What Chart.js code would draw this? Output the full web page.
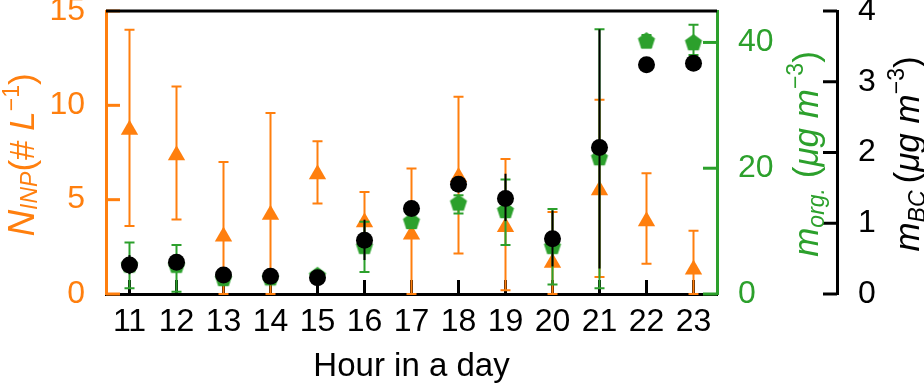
<!DOCTYPE html>
<html>
<head>
<meta charset="utf-8">
<script src="https://cdn.jsdelivr.net/npm/chart.js@4/dist/chart.umd.min.js"></script>
<style>
  body { margin: 0; background: #fff; }
  #wrap { width: 924px; height: 387px; }
</style>
</head>
<body>
<div id="wrap"><canvas id="chart" width="924" height="387"></canvas></div>
<script>
// === Données ===
const hours = ['11', '12', '13', '14', '15', '16', '17', '18', '19', '20', '21', '22', '23'];

// N_INP (# L-1), axe gauche
const inpValues = [8.7, 7.35, 3.05, 4.2, 6.35, 3.8, 3.15, 6.2, 3.55, 1.65, 5.5, 3.85, 1.3];
const inpHigh   = [14.0, 11.0, 7.0, 9.6, 8.1, 5.4, 6.65, 10.45, 7.15, 4.35, 10.3, 6.4, 3.35];
const inpLow    = [3.6, 3.95, 0, 0, 4.8, 2.4, 0, 2.15, 0.2, 0, 0.9, 1.6, 0];

// m_org (µg m-3), axe vert
const orgValues = [4.55, 4.5, 2.4, 2.5, 2.9, 7.5, 11.5, 14.4, 13.2, 7.5, 21.6, 40.2, 39.9];
const orgHigh   = [8.2, 7.8, 3.0, 3.1, 3.5, 11.5, 12.6, 15.7, 18.2, 13.5, 42.1, 41.2, 42.8];
const orgLow    = [0.9, 0.37, 1.8, 1.9, 2.3, 3.5, 10.5, 12.8, 7.8, 1.5, 0.9, 39.2, 38.0];

// m_BC (µg m-3), axe noir
const bcValues = [0.41, 0.45, 0.27, 0.25, 0.23, 0.76, 1.21, 1.55, 1.35, 0.78, 2.07, 3.24, 3.26];
const bcHigh   = [0.55, 0.55, 0.27, 0.25, 0.23, 1.05, 1.21, 1.55, 1.7, 1.18, 3.74, 3.24, 3.26];
const bcLow    = [0.28, 0.35, 0.27, 0.25, 0.23, 0.48, 1.21, 1.55, 1.03, 0.39, 0.36, 3.24, 3.26];

const inpTicks = [0, 5, 10, 15];
const orgTicks = [0, 20, 40];
const bcTicks = [0, 1, 2, 3, 4];

const ORANGE = '#ff7f0e';
const GREEN = '#2ca02c';
const BLACK = '#000000';
const FONT = "'Liberation Sans', Arial, sans-serif";

// Marqueur pentagone (pas de style natif dans Chart.js)
function makePentagon(r, color) {
  const c = document.createElement('canvas');
  const s = Math.ceil(r * 2 + 2);
  c.width = s; c.height = s;
  const g = c.getContext('2d');
  g.fillStyle = color;
  g.beginPath();
  for (let i = 0; i < 5; i++) {
    const a = -Math.PI / 2 + i * 2 * Math.PI / 5;
    const px = s / 2 + r * Math.cos(a), py = s / 2 + r * Math.sin(a);
    if (i === 0) g.moveTo(px, py); else g.lineTo(px, py);
  }
  g.closePath();
  g.fill();
  return c;
}

// Barres d'erreur, dessinées avant chaque série
const errorBars = {
  id: 'errorBars',
  beforeDatasetDraw(chart, args) {
    const ds = chart.data.datasets[args.index];
    if (!ds.errLow) return;
    const ys = chart.scales[ds.yAxisID];
    const ctx = chart.ctx;
    const cap = ds.errCap;
    ctx.save();
    ctx.strokeStyle = ds.errColor;
    ctx.lineWidth = 2;
    args.meta.data.forEach((pt, i) => {
      const lo = ds.errLow[i], hi = ds.errHigh[i];
      if (lo === hi) return;
      const y1 = ys.getPixelForValue(lo), y2 = ys.getPixelForValue(hi);
      ctx.beginPath();
      ctx.moveTo(pt.x, y1); ctx.lineTo(pt.x, y2);
      if (cap) {
        ctx.moveTo(pt.x - cap, y1); ctx.lineTo(pt.x + cap, y1);
        ctx.moveTo(pt.x - cap, y2); ctx.lineTo(pt.x + cap, y2);
      }
      ctx.stroke();
    });
    ctx.restore();
  }
};

// Graduations vers l'intérieur + cadre du haut
const frame = {
  id: 'frame',
  beforeDatasetsDraw(chart) {
    const ctx = chart.ctx;
    const a = chart.chartArea;
    const L = 14;
    ctx.save();
    ctx.lineWidth = 3;
    const sx = chart.scales.x;
    ctx.strokeStyle = BLACK;
    hours.forEach((h, i) => {
      const x = sx.getPixelForValue(i);
      ctx.beginPath(); ctx.moveTo(x, a.bottom); ctx.lineTo(x, a.bottom - L); ctx.stroke();
    });
    const sInp = chart.scales.yInp;
    ctx.strokeStyle = ORANGE;
    inpTicks.forEach(v => {
      const y = sInp.getPixelForValue(v);
      ctx.beginPath(); ctx.moveTo(a.left, y); ctx.lineTo(a.left + L, y); ctx.stroke();
    });
    const sOrg = chart.scales.yOrg;
    ctx.strokeStyle = GREEN;
    orgTicks.forEach(v => {
      const y = sOrg.getPixelForValue(v);
      ctx.beginPath(); ctx.moveTo(a.right, y); ctx.lineTo(a.right - L, y); ctx.stroke();
    });
    const sBc = chart.scales.yBc;
    ctx.strokeStyle = BLACK;
    bcTicks.forEach(v => {
      const y = sBc.getPixelForValue(v);
      ctx.beginPath(); ctx.moveTo(sBc.left, y); ctx.lineTo(sBc.left - L, y); ctx.stroke();
    });
    // cadre du haut
    ctx.beginPath(); ctx.moveTo(a.left, a.top); ctx.lineTo(a.right, a.top); ctx.stroke();
    ctx.restore();
  }
};

// Titres d'axes avec indices / exposants
function drawRich(ctx, parts, cx, cy, color, rotate) {
  ctx.save();
  ctx.translate(cx, cy);
  if (rotate) ctx.rotate(-Math.PI / 2);
  ctx.fillStyle = color;
  ctx.textBaseline = 'alphabetic';
  let total = 0;
  parts.forEach(p => {
    ctx.font = (p.it ? 'italic ' : '') + p.size + 'px ' + FONT;
    p.w = ctx.measureText(p.t).width;
    total += p.w;
  });
  let x = -total / 2;
  parts.forEach(p => {
    ctx.font = (p.it ? 'italic ' : '') + p.size + 'px ' + FONT;
    ctx.fillText(p.t, x, p.dy || 0);
    x += p.w;
  });
  ctx.restore();
}

const axisTitles = {
  id: 'axisTitles',
  afterDraw(chart) {
    const ctx = chart.ctx;
    const M = 35, S = 23;
    const a = chart.chartArea;
    drawRich(ctx, [{ t: 'Hour in a day', size: 33 }], (a.left + a.right) / 2, 376, BLACK, false);
    drawRich(ctx, [
      { t: 'N', size: M + 2, it: true },
      { t: 'INP', size: S, it: true, dy: 3 },
      { t: '(', size: M },
      { t: '# ', size: M },
      { t: 'L', size: M, it: true },
      { t: '\u22121', size: S, dy: -15 },
      { t: ')', size: M }
    ], 34, 155, ORANGE, true);
    drawRich(ctx, [
      { t: 'm', size: M, it: true },
      { t: 'org.', size: S, it: true, dy: 6 },
      { t: ' (', size: M },
      { t: '\u03bcg m', size: M, it: true },
      { t: '\u22123', size: S, dy: -15 },
      { t: ')', size: M }
    ], 818, 154, GREEN, true);
    drawRich(ctx, [
      { t: 'm', size: M, it: true },
      { t: 'BC', size: S, it: true, dy: 6 },
      { t: '\u2009(', size: M },
      { t: '\u03bcg m', size: M, it: true },
      { t: '\u22123', size: S, dy: -15 },
      { t: ')', size: M }
    ], 919, 154, BLACK, true);
  }
};

const tickFont = { family: FONT, size: 32 };
const fixedTicks = list => s => { s.ticks = list.map(v => ({ value: v })); };

new Chart(document.getElementById('chart'), {
  type: 'line',
  data: {
    labels: hours,
    datasets: [
      {
        label: 'BC',
        data: bcValues,
        yAxisID: 'yBc',
        order: 1,
        showLine: false,
        pointStyle: 'circle',
        pointRadius: 8.5,
        pointBackgroundColor: BLACK,
        pointBorderWidth: 0,
        borderColor: BLACK,
        errColor: BLACK,
        errCap: 0,
        errLow: bcLow,
        errHigh: bcHigh
      },
      {
        label: 'org',
        data: orgValues,
        yAxisID: 'yOrg',
        order: 2,
        showLine: false,
        pointStyle: makePentagon(9, GREEN),
        pointRadius: 9,
        pointBackgroundColor: GREEN,
        pointBorderWidth: 0,
        borderColor: GREEN,
        errColor: GREEN,
        errCap: 5,
        errLow: orgLow,
        errHigh: orgHigh
      },
      {
        label: 'INP',
        data: inpValues,
        yAxisID: 'yInp',
        order: 3,
        showLine: false,
        pointStyle: 'triangle',
        pointRadius: 10,
        pointBackgroundColor: ORANGE,
        pointBorderWidth: 0,
        borderColor: ORANGE,
        errColor: ORANGE,
        errCap: 5,
        errLow: inpLow,
        errHigh: inpHigh
      }
    ]
  },
  options: {
    responsive: false,
    animation: false,
    layout: { padding: { top: 11, left: 0, right: 0, bottom: 0 } },
    plugins: { legend: { display: false }, tooltip: { enabled: false } },
    scales: {
      x: {
        type: 'category',
        offset: true,
        grid: { display: false },
        border: { display: true, color: BLACK, width: 3 },
        ticks: { color: BLACK, font: tickFont, padding: 1, maxRotation: 0, autoSkip: false },
        afterFit(s) { s.height = 93; s.paddingLeft = 0; s.paddingRight = 0; }
      },
      yInp: {
        position: 'left',
        min: 0, max: 15,
        grid: { display: false },
        border: { display: true, color: ORANGE, width: 3 },
        ticks: { color: ORANGE, font: tickFont, padding: 13 },
        afterBuildTicks: fixedTicks(inpTicks),
        afterFit(s) { s.width = 106; s.paddingTop = 0; s.paddingBottom = 0; }
      },
      yOrg: {
        position: 'right',
        weight: 0,
        min: 0, max: 45,
        grid: { display: false },
        border: { display: true, color: GREEN, width: 3 },
        ticks: { color: GREEN, font: tickFont, padding: 13 },
        afterBuildTicks: fixedTicks(orgTicks),
        afterFit(s) { s.width = 120; s.paddingTop = 0; s.paddingBottom = 0; }
      },
      yBc: {
        position: 'right',
        weight: 1,
        min: 0, max: 4,
        grid: { display: false },
        border: { display: true, color: BLACK, width: 3 },
        ticks: { color: BLACK, font: tickFont, padding: 13 },
        afterBuildTicks: fixedTicks(bcTicks),
        afterFit(s) { s.width = 87; s.paddingTop = 0; s.paddingBottom = 0; }
      }
    }
  },
  plugins: [errorBars, frame, axisTitles]
});
</script>
</body>
</html>
